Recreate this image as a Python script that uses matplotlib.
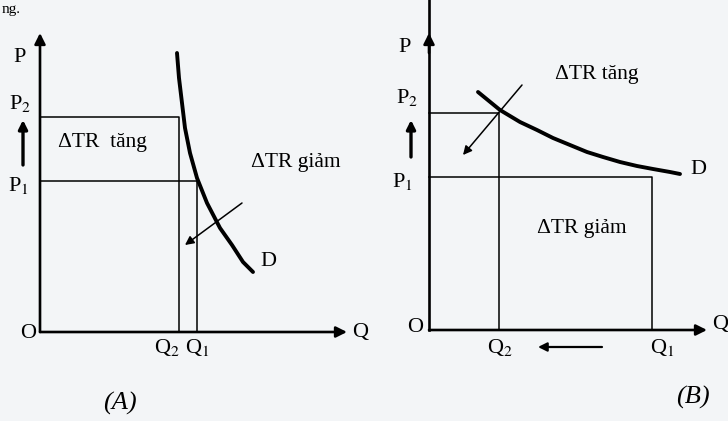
import matplotlib
matplotlib.use("Agg")
import matplotlib.pyplot as plt

plt.rcParams['font.family'] = ['Liberation Serif', 'DejaVu Serif']
plt.rcParams['mathtext.fontset'] = 'stix'

# ---------------- data (arbitrary economic units) ----------------
# Panel A: inelastic demand
A_Q2, A_Q1 = 13.9, 15.65
A_P2, A_P1 = 21.5, 15.1
A_curve_q = [13.7, 13.9, 14.2, 14.5, 15.0, 15.7, 16.7, 18.0, 19.2, 20.3, 21.3]
A_curve_p = [27.9, 25.4, 22.9, 20.4, 17.9, 15.4, 12.9, 10.4, 8.7, 7.0, 6.0]
A_xmax, A_ymax = 30.7, 29.9

# Panel B: elastic demand
B_Q2, B_Q1 = 7.0, 22.3
B_P2, B_P1 = 21.7, 15.3
B_curve_q = [4.9, 7.1, 9.1, 10.8, 12.4, 14.1, 15.8, 17.4, 19.1, 20.8, 22.4, 24.1, 25.1]
B_curve_p = [23.8, 22.0, 20.8, 20.0, 19.2, 18.5, 17.8, 17.3, 16.8, 16.4, 16.1, 15.8, 15.6]
B_xmax, B_ymax, B_ytop = 27.8, 29.7, 33.0

BG = '#f3f5f7'
fig = plt.figure(figsize=(7.28, 4.21), dpi=100, facecolor=BG)

axA = fig.add_axes([0, 0, 368 / 728, 1])
axB = fig.add_axes([360 / 728, 0, 368 / 728, 1])
for ax in (axA, axB):
    ax.axis('off')
    ax.patch.set_alpha(0)
axA.set_xlim(-4.0, 32.8)
axA.set_ylim(-8.9, 33.2)
axB.set_xlim(-6.9, 29.9)
axB.set_ylim(-9.1, 33.0)

LW_AX = 1.9
LW_THIN = 1.1
LW_D = 2.8
FS_LAB = 16
FS_TXT = 15.5


def arrow(ax, start, end, lw, ms, style='-|>'):
    ax.annotate('', xy=end, xytext=start,
                arrowprops=dict(arrowstyle=style, lw=lw, color='black',
                                mutation_scale=ms, shrinkA=0, shrinkB=0))


def sub(base, n):
    return base + '$_{' + n + '}$'


# ---------------- Panel A ----------------
ax = axA
arrow(ax, (0, 0), (A_xmax, 0), LW_AX, 16)
arrow(ax, (0, 0), (0, A_ymax), LW_AX, 16)
ax.plot([0, A_Q2, A_Q2], [A_P2, A_P2, 0], color='black', lw=LW_THIN)
ax.plot([0, A_Q1, A_Q1], [A_P1, A_P1, 0], color='black', lw=LW_THIN)
ax.plot(A_curve_q, A_curve_p, color='black', lw=LW_D,
        solid_capstyle='round', solid_joinstyle='round')
arrow(ax, (20.2, 12.9), (14.5, 8.7), LW_THIN, 13)
arrow(ax, (-1.7, 16.7), (-1.7, 21.2), 2.4, 13)

ax.text(-2.0, 27.5, 'P', fontsize=FS_LAB, ha='center', va='center')
ax.text(-2.0, 22.9, sub('P', '2'), fontsize=FS_LAB, ha='center', va='center')
ax.text(-2.2, 14.7, sub('P', '1'), fontsize=FS_LAB, ha='center', va='center')
ax.text(-1.2, -0.1, 'O', fontsize=FS_LAB, ha='center', va='center')
ax.text(12.7, -1.6, sub('Q', '2'), fontsize=FS_LAB, ha='center', va='center')
ax.text(15.7, -1.6, sub('Q', '1'), fontsize=FS_LAB, ha='center', va='center')
ax.text(32.0, 0.0, 'Q', fontsize=FS_LAB, ha='center', va='center')
ax.text(6.2, 18.9, 'ΔTR  tăng', fontsize=FS_TXT, ha='center', va='center')
ax.text(25.6, 16.9, 'ΔTR giảm', fontsize=FS_TXT, ha='center', va='center')
ax.text(22.8, 7.0, 'D', fontsize=FS_LAB, ha='center', va='center')
ax.text(8.0, -7.1, '(A)', fontsize=19, style='italic', ha='center', va='center')
ax.text(-3.8, 32.3, 'ng.', fontsize=11, ha='left', va='center')

# ---------------- Panel B ----------------
ax = axB
arrow(ax, (0, 0), (B_xmax, 0), LW_AX, 16)
ax.plot([0, 0], [0, B_ytop], color='black', lw=LW_AX)
arrow(ax, (0, B_ymax - 2), (0, B_ymax), LW_AX, 16)
ax.plot([0, B_Q2, B_Q2], [B_P2, B_P2, 0], color='black', lw=LW_THIN)
ax.plot([0, B_Q1, B_Q1], [B_P1, B_P1, 0], color='black', lw=LW_THIN)
ax.plot(B_curve_q, B_curve_p, color='black', lw=LW_D,
        solid_capstyle='round', solid_joinstyle='round')
arrow(ax, (9.3, 24.5), (3.4, 17.5), LW_THIN, 13)
arrow(ax, (-1.8, 17.3), (-1.8, 21.0), 2.4, 13)
arrow(ax, (17.3, -1.7), (10.9, -1.7), 1.6, 13)

ax.text(-2.4, 28.3, 'P', fontsize=FS_LAB, ha='center', va='center')
ax.text(-2.2, 23.2, sub('P', '2'), fontsize=FS_LAB, ha='center', va='center')
ax.text(-2.7, 14.8, sub('P', '1'), fontsize=FS_LAB, ha='center', va='center')
ax.text(-1.4, 0.2, 'O', fontsize=FS_LAB, ha='center', va='center')
ax.text(29.1, 0.5, 'Q', fontsize=FS_LAB, ha='center', va='center')
ax.text(7.1, -1.8, sub('Q', '2'), fontsize=FS_LAB, ha='center', va='center')
ax.text(23.3, -1.8, sub('Q', '1'), fontsize=FS_LAB, ha='center', va='center')
ax.text(16.8, 25.5, 'ΔTR tăng', fontsize=FS_TXT, ha='center', va='center')
ax.text(15.3, 10.2, 'ΔTR giảm', fontsize=FS_TXT, ha='center', va='center')
ax.text(26.9, 16.0, 'D', fontsize=FS_LAB, ha='center', va='center')
ax.text(26.4, -6.7, '(B)', fontsize=19, style='italic', ha='center', va='center')

fig.savefig('out.png', dpi=100, facecolor=BG)
